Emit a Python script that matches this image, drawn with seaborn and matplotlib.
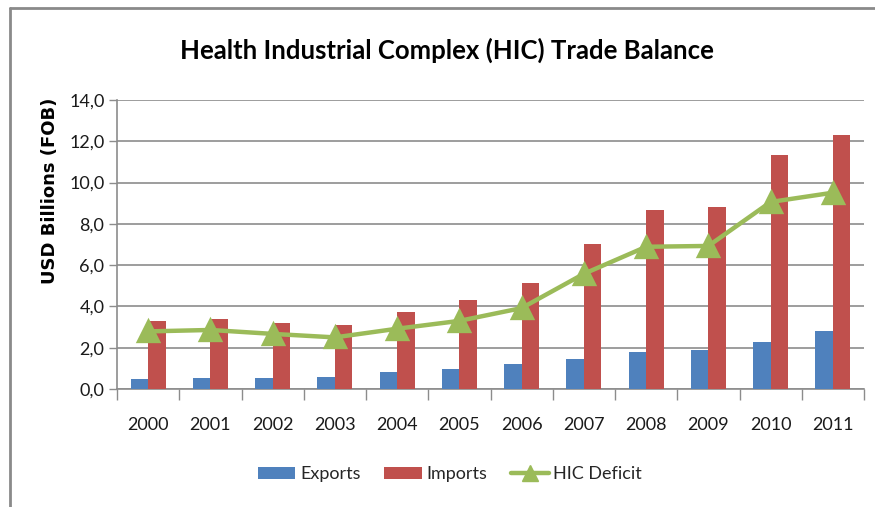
import matplotlib
matplotlib.use("Agg")
import matplotlib.pyplot as plt
import seaborn as sns
import pandas as pd
from matplotlib.patches import Patch
from matplotlib.lines import Line2D
from matplotlib.ticker import FuncFormatter, FixedLocator

years = ["2000", "2001", "2002", "2003", "2004", "2005",
         "2006", "2007", "2008", "2009", "2010", "2011"]
exports = [0.48, 0.53, 0.53, 0.59, 0.82, 0.99, 1.22, 1.44, 1.78, 1.90, 2.29, 2.80]
imports = [3.27, 3.38, 3.20, 3.09, 3.72, 4.29, 5.14, 7.02, 8.67, 8.83, 11.35, 12.31]
deficit = [2.79, 2.86, 2.67, 2.50, 2.92, 3.30, 3.92, 5.58, 6.89, 6.93, 9.06, 9.51]
series_names = ["Exports", "Imports", "HIC Deficit"]
y_ticks = [0, 2, 4, 6, 8, 10, 12, 14]

c_exp, c_imp, c_def = "#4F81BD", "#C0504D", "#9BBB59"
grid_c = "#8C8C8C"

sns.set_theme(style="white")
plt.rcParams["font.family"] = ["Lato", "DejaVu Sans"]

df = pd.DataFrame({
    "Year": years * 2,
    "Series": [series_names[0]] * len(years) + [series_names[1]] * len(years),
    "Value": exports + imports,
})

fig = plt.figure(figsize=(8.75, 5.07), dpi=100)
ax = fig.add_axes([117 / 875, 1 - 389 / 507, 747 / 875, 289 / 507])

sns.barplot(data=df, x="Year", y="Value", hue="Series",
            palette=[c_exp, c_imp], width=0.56, gap=0, saturation=1,
            linewidth=0, legend=False, ax=ax, zorder=3)
sns.pointplot(x=years, y=deficit, color=c_def, markers="^",
              markersize=14, linewidth=3.2, ax=ax, zorder=4)

ax.set_xlim(-0.5, len(years) - 0.5)
ax.set_ylim(0, 14)
ax.yaxis.set_major_locator(FixedLocator(y_ticks))
ax.yaxis.set_major_formatter(FuncFormatter(lambda v, p: f"{v:.1f}".replace(".", ",")))
ax.grid(axis="y", color=grid_c, linewidth=1.2, zorder=0)
ax.set_axisbelow(True)

for s in ["top", "right"]:
    ax.spines[s].set_visible(False)
for s in ["left", "bottom"]:
    ax.spines[s].set_color(grid_c)
    ax.spines[s].set_linewidth(1.2)

ax.tick_params(axis="y", which="major", length=6, width=1.0, color=grid_c,
               direction="out", left=True, labelsize=13, pad=3, labelcolor="#1a1a1a")
ax.tick_params(axis="x", which="major", length=0, labelsize=13, pad=20, labelcolor="#1a1a1a")
ax.set_xticks([i - 0.5 for i in range(len(years) + 1)], minor=True)
ax.tick_params(axis="x", which="minor", length=8, width=1.0, color=grid_c,
               direction="out", bottom=True)

ax.set_xlabel("")
ax.set_ylabel("USD Billions (FOB)", fontsize=13, fontweight="bold",
              family=["DejaVu Sans"], color="#000000")
ax.yaxis.set_label_coords(-0.077, 0.685)

fig.text(0.511, 1 - 50 / 507, "Health Industrial Complex (HIC) Trade Balance",
         ha="center", va="center", fontsize=18.5, fontweight="bold", color="#000000")

handles = [
    Patch(facecolor=c_exp, edgecolor="none"),
    Patch(facecolor=c_imp, edgecolor="none"),
    Line2D([0], [0], color=c_def, lw=3.2, marker="^", markersize=11),
]
fig.legend(handles, series_names, loc="center", bbox_to_anchor=(0.514, 1 - 474 / 507),
           ncol=3, frameon=False, fontsize=13, handlelength=2.1, handleheight=0.65,
           handletextpad=0.25, columnspacing=1.3)

# chart-area frame (top and left edges visible in reference)
fig.add_artist(Line2D([10 / 875, 1.0], [1 - 8 / 507, 1 - 8 / 507],
                      transform=fig.transFigure, color="#8a8a8a", lw=2))
fig.add_artist(Line2D([10 / 875, 10 / 875], [0, 1 - 8 / 507],
                      transform=fig.transFigure, color="#8a8a8a", lw=2))

fig.savefig("out.png", dpi=100)
